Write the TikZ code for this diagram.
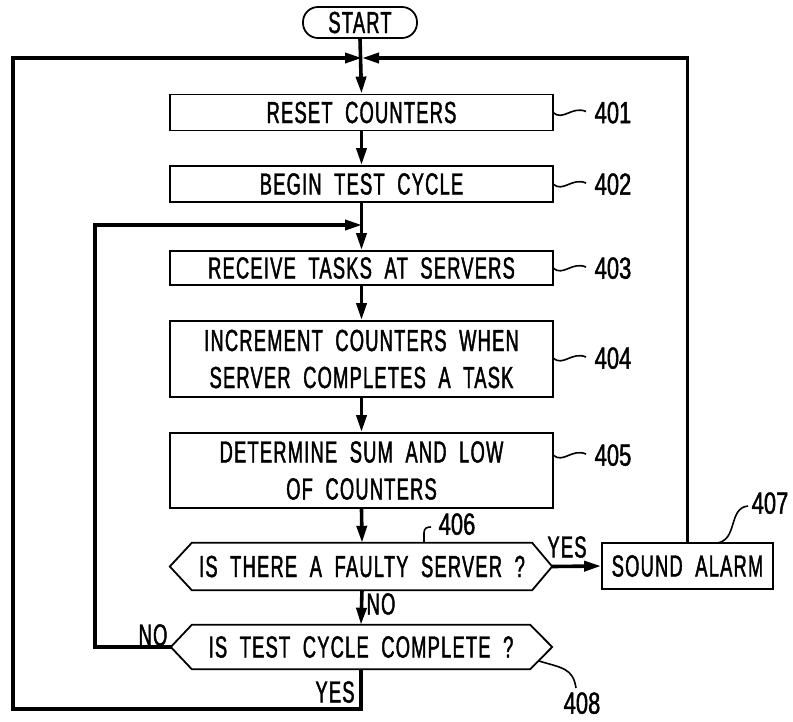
\documentclass[tikz,border=0pt]{standalone}
\usepackage{fontspec}
\setmainfont{Liberation Sans}[FakeStretch=0.6,LetterSpace=4,WordSpace=2.0,FakeBold=1.4]
\newfontfamily\numfont{Liberation Sans}[FakeStretch=0.72,FakeBold=1.4]
\usetikzlibrary{arrows.meta,calc}
\begin{document}
\begin{tikzpicture}[x=1pt,y=-1pt,
  every node/.style={font=\fontsize{30.5}{37}\selectfont},
  box/.style={draw,line width=1.8pt,minimum width=383pt,align=center,inner sep=0pt},
  flow/.style={line width=3.6pt},
  arr/.style={flow,-{Triangle[length=17pt,width=10pt]}},
  lbl/.style={inner sep=0pt},
  numlbl/.style={inner sep=0pt,text depth=0pt,font=\numfont\fontsize{30.5}{37}\selectfont},
  squig/.style={line width=1.6pt},
  dec/.style={minimum width=338pt,minimum height=45pt,inner sep=0pt}
]
\useasboundingbox (0,0) rectangle (793,721);

% nodes
\node[draw,line width=1.8pt,rounded corners=15pt,minimum width=114pt,minimum height=31pt,inner sep=0pt] (start) at (360,22.5) {START};
\node[box,minimum height=36pt] (reset) at (361.5,112.5) {RESET COUNTERS};
\node[box,minimum height=36pt] (begin) at (361.5,184) {BEGIN TEST CYCLE};
\node[box,minimum height=34pt] (recv) at (361.5,268) {RECEIVE TASKS AT SERVERS};
\node[box,minimum height=76pt] (incr) at (361.5,359) {INCREMENT COUNTERS WHEN\\SERVER COMPLETES A TASK};
\node[box,minimum height=75pt] (det) at (361.5,470.5) {DETERMINE SUM AND LOW\\OF COUNTERS};
\node[dec,minimum width=340pt,minimum height=47pt] (d1) at (362,566.5) {IS THERE A FAULTY SERVER ?};
\node[dec,minimum width=338pt,minimum height=44pt] (d2) at (361,647) {IS TEST CYCLE COMPLETE ?};
\node[box,minimum width=171pt,minimum height=46pt] (alarm) at (687.5,566) {SOUND ALARM};

% hexagon outlines
\draw[line width=1.8pt] (d1.north west) -- (d1.north east) -- ($(d1.east)+(20,0)$) coordinate (d1tip)
  -- (d1.south east) -- (d1.south west) -- ($(d1.west)+(-22,0)$) -- cycle;
\draw[line width=1.8pt] (d2.north west) -- (d2.north east) -- ($(d2.east)+(22,0)$)
  -- (d2.south east) -- (d2.south west) -- ($(d2.west)+(-21,0)$) coordinate (d2tip) -- cycle;

% junction coordinates
\coordinate (jtop) at (362,58);
\coordinate (jin) at (362,225);
\coordinate (lt) at (13,58);
\coordinate (lb) at (13,709);
\coordinate (il) at (95,647);
\coordinate (iu) at (95,225);

% main flow
\draw[arr] (start.south) -- (reset.north);
\draw[arr] (reset.south) -- (begin.north);
\draw[arr] (begin.south) -- (recv.north);
\draw[arr] (recv.south) -- (incr.north);
\draw[arr] (incr.south) -- (det.north);
\draw[arr] (det.south) -- (d1.north);
\draw[arr] (d1.south) -- (d2.north);
\draw[arr] (d1tip) -- (alarm.west);

% feedback loops
\draw[arr] (alarm.north) |- (jtop);
\draw[arr] (d2.south) |- (lb) -- (lt) -- (jtop);
\draw[arr] (d2tip) -- (il) -- (iu) -- (jin);

% branch labels
\node[lbl] (yes1) at (567,547) {YES};
\node[lbl] (no1) at (381,604) {NO};
\node[lbl] (no2) at (153,635) {NO};
\node[lbl] (yes2) at (335,692) {YES};

% reference numerals
\foreach \n/\nm/\yy in {reset/401/112.5, begin/402/184, recv/403/268, incr/404/358, det/405/455}{
  \node[numlbl] (ref\nm) at (613,\yy) {\nm};
  \draw[squig] (553,\yy) .. controls (563,\yy+9) and (572,\yy-7) .. (586,\yy-1);
}
\node[numlbl] (ref406) at (457,524) {406};
\draw[squig] (424,543) -- (424,533) .. controls (424,528) and (427,527) .. (431,527);
\node[numlbl] (ref407) at (770,503) {407};
\draw[squig] (717,543) .. controls (738,540) and (728,508) .. (748,506);
\node[numlbl] (ref408) at (582,703) {408};
\draw[squig] (539,661) .. controls (562,668) and (573,668) .. (576,688);
\end{tikzpicture}
\end{document}
